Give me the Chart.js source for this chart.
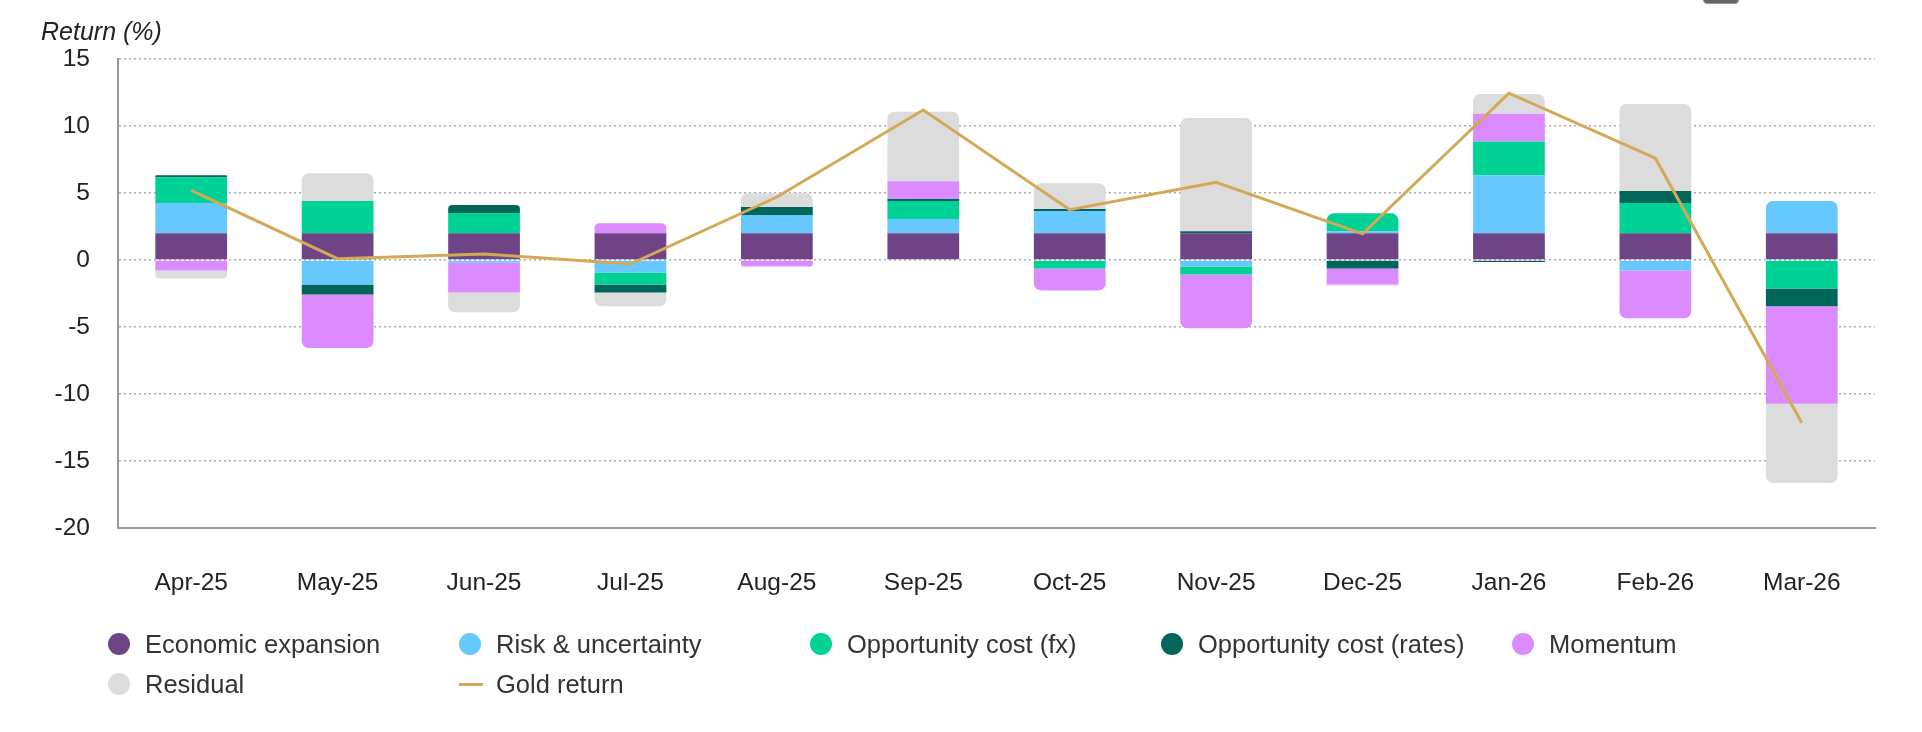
<!DOCTYPE html>
<html>
<head>
<meta charset="utf-8">
<script src="https://cdn.jsdelivr.net/npm/chart.js@4.4.1/dist/chart.umd.min.js"></script>
<style>
html,body{margin:0;padding:0;background:#fff;}
#wrap{position:relative;width:1922px;height:732px;overflow:hidden;font-family:"Liberation Sans",Arial,Helvetica,sans-serif;}
#c{position:absolute;left:0;top:0;}
#ytitle{position:absolute;left:41px;top:17px;font-style:italic;font-size:25px;line-height:28px;color:#222;}
#legend{position:absolute;left:108px;top:624px;width:1780px;display:flex;flex-wrap:wrap;}
.item{width:351px;height:40px;display:flex;align-items:center;font-size:25.5px;color:#333;}
.dot{width:22px;height:22px;border-radius:50%;margin-right:15px;flex:none;}
.ln{width:24px;height:3px;margin-right:13px;flex:none;}
#btn{position:absolute;left:1703px;top:-8px;width:34px;height:10px;background:#666;border-radius:4px;border:1px solid #999;}
</style>
</head>
<body>
<div id="wrap">
  <canvas id="c" width="1922" height="732"></canvas>
  <div id="ytitle">Return (%)</div>
  <div id="legend"></div>
  <div id="btn"></div>
</div>
<script>
const categories = ['Apr-25','May-25','Jun-25','Jul-25','Aug-25','Sep-25','Oct-25','Nov-25','Dec-25','Jan-26','Feb-26','Mar-26'];
const economicExpansion = [2.0, 2.0, 2.0, 2.0, 2.0, 2.0, 2.0, 2.0, 2.0, 2.0, 2.0, 2.0];
const riskUncertainty   = [2.25, -1.83, -0.2, -0.94, 1.36, 1.06, 1.65, -0.49, 0.15, 4.32, -0.79, 2.4];
const oppCostFx         = [1.92, 2.4, 1.5, -0.89, 0, 1.34, -0.64, -0.6, 1.33, 2.52, 2.25, -2.12];
const oppCostRates      = [0.15, -0.74, 0.6, -0.59, 0.59, 0.15, 0.15, 0.15, -0.64, -0.15, 0.89, -1.34];
const momentum          = [-0.79, -4.0, -2.22, 0.75, -0.49, 1.33, -1.63, -4.0, -1.19, 2.07, -3.56, -7.26];
const residual          = [-0.59, 2.07, -1.48, -1.04, 1.04, 5.19, 1.93, 8.45, -0.1, 1.48, 6.51, -5.92];
const goldReturn        = [5.2, 0.1, 0.45, -0.3, 4.7, 11.2, 3.75, 5.8, 1.95, 12.45, 7.6, -12.15];
const yTicks = [15, 10, 5, 0, -5, -10, -15, -20];

const FONT = '"Liberation Sans", Arial, Helvetica, sans-serif';
const barSeries = [
  ['Economic expansion', economicExpansion, '#6E4486'],
  ['Risk & uncertainty', riskUncertainty, '#66C8FF'],
  ['Opportunity cost (fx)', oppCostFx, '#00D296'],
  ['Opportunity cost (rates)', oppCostRates, '#00665A'],
  ['Momentum', momentum, '#DC8AFF'],
  ['Residual', residual, '#DCDCDC']
];
const goldColor = '#D3A957';

const datasets = barSeries.map(([label, data, color]) => ({
  type: 'bar', label, data, backgroundColor: color, stack: 'factors',
  barPercentage: 0.49, categoryPercentage: 1.0, borderRadius: 7, borderSkipped: 'start'
}));
datasets.push({
  type: 'line', label: 'Gold return', data: goldReturn, borderColor: goldColor,
  borderWidth: 3, pointRadius: 0, pointHoverRadius: 0, tension: 0, fill: false,
  stack: 'gold', order: -1
});

new Chart(document.getElementById('c'), {
  type: 'bar',
  data: { labels: categories, datasets },
  options: {
    responsive: false, animation: false, devicePixelRatio: 1,
    layout: { padding: { top: 59, right: 47, bottom: 0, left: 0 } },
    plugins: { legend: { display: false }, tooltip: { enabled: false }, title: { display: false } },
    scales: {
      x: {
        stacked: true,
        grid: { display: false },
        border: { display: true, color: '#999', width: 2 },
        ticks: { color: '#222', font: { family: FONT, size: 24.5 }, padding: 33, maxRotation: 0, autoSkip: false },
        afterFit: s => { s.height = 204; }
      },
      y: {
        stacked: true, min: Math.min(...yTicks), max: Math.max(...yTicks),
        afterBuildTicks: s => { s.ticks = yTicks.slice().reverse().map(v => ({ value: v })); },
        ticks: { color: '#222', font: { family: FONT, size: 24.5 }, padding: 28 },
        grid: {
          drawTicks: false, lineWidth: 1.5,
          color: c => (c.tick && c.tick.value === -20) ? 'rgba(0,0,0,0)' : '#AAAAAA'
        },
        border: { display: true, color: '#999', width: 2, dash: [2, 3] },
        afterFit: s => { s.width = 118; }
      }
    }
  }
});

// HTML legend built from the dataset definitions
const leg = document.getElementById('legend');
barSeries.forEach(([label, , color]) => {
  const it = document.createElement('div'); it.className = 'item';
  const d = document.createElement('span'); d.className = 'dot'; d.style.background = color;
  const t = document.createElement('span'); t.textContent = label;
  it.appendChild(d); it.appendChild(t); leg.appendChild(it);
});
{
  const it = document.createElement('div'); it.className = 'item';
  const d = document.createElement('span'); d.className = 'ln'; d.style.background = goldColor;
  const t = document.createElement('span'); t.textContent = 'Gold return';
  it.appendChild(d); it.appendChild(t); leg.appendChild(it);
}
</script>
</body>
</html>
